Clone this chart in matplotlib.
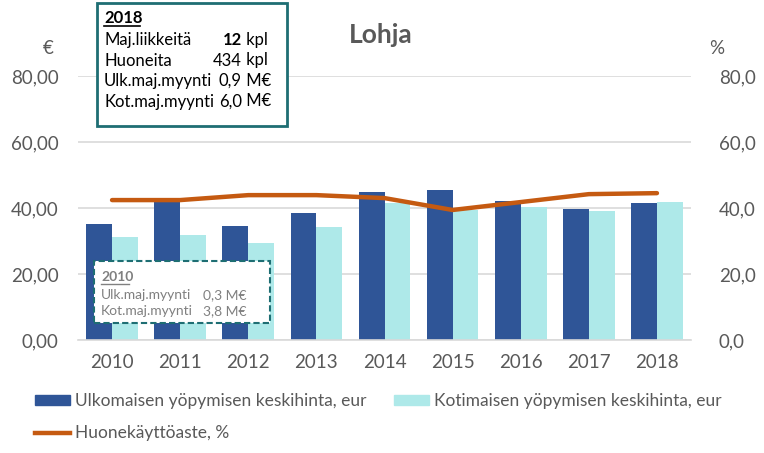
import matplotlib
matplotlib.use("Agg")
import matplotlib.pyplot as plt
import numpy as np
from matplotlib.patches import Patch
from matplotlib.lines import Line2D

plt.rcParams['font.family'] = ['Lato', 'DejaVu Sans']

years = ["2010", "2011", "2012", "2013", "2014", "2015", "2016", "2017", "2018"]
ulk = [35.2, 42.5, 34.5, 38.5, 44.9, 45.5, 42.0, 39.7, 41.5]
kot = [31.3, 31.8, 29.5, 34.2, 41.5, 39.5, 40.4, 39.1, 41.8]
kaytto = [42.4, 42.4, 43.9, 43.9, 43.0, 39.4, 41.8, 44.2, 44.5]
left_ticks = [0, 20, 40, 60, 80]
left_labels = ["0,00", "20,00", "40,00", "60,00", "80,00"]
right_labels = ["0,0", "20,0", "40,0", "60,0", "80,0"]
series_names = ["Ulkomaisen yöpymisen keskihinta, eur",
                "Kotimaisen yöpymisen keskihinta, eur",
                "Huonekäyttöaste, %"]
title = "Lohja"
box2018 = [("Maj.liikkeitä", "12", " kpl"), ("Huoneita", "434", " kpl"),
           ("Ulk.maj.myynti", "0,9", " M€"), ("Kot.maj.myynti", "6,0", " M€")]
box2010 = [("Ulk.maj.myynti", "0,3 M€"), ("Kot.maj.myynti", "3,8 M€")]

DARK = "#2F5597"
LIGHT = "#AEE9E9"
ORANGE = "#C55A11"
TEAL = "#1E6E73"
GRID = "#D9D9D9"
TXT = "#595959"
GRAYTXT = "#808080"

W, H = 764, 453
fig = plt.figure(figsize=(W/100, H/100), dpi=100)
L, R, B, T = 78, 691, 340, 76
ax = fig.add_axes([L/W, 1-B/H, (R-L)/W, (B-T)/H])
ax2 = ax.twinx()

x = np.arange(len(years))
bw = 0.38
ax.bar(x - bw/2, ulk, bw, color=DARK, zorder=2)
ax.bar(x + bw/2, kot, bw, color=LIGHT, zorder=2)
ax.set_xlim(-0.5, len(years)-0.5)
ax.set_ylim(0, 80)
ax.set_yticks(left_ticks)
ax.set_yticklabels(left_labels)
ax.set_xticks(x)
ax.set_xticklabels(years)
ax.grid(axis='y', color=GRID, linewidth=1.2, zorder=0)
ax.set_axisbelow(True)
for s in ['top', 'left', 'right']:
    ax.spines[s].set_visible(False)
ax.spines['bottom'].set_color(GRID)
ax.spines['bottom'].set_linewidth(1.2)
ax.tick_params(axis='both', length=0, labelsize=13.5, labelcolor=TXT)
ax.tick_params(axis='y', pad=14)
ax.tick_params(axis='x', pad=10)

ax2.plot(x, kaytto, color=ORANGE, linewidth=3.2, solid_capstyle='round', zorder=3)
ax2.set_ylim(0, 80)
ax2.set_yticks(left_ticks)
ax2.set_yticklabels(right_labels)
for s in ax2.spines.values():
    s.set_visible(False)
ax2.tick_params(axis='y', length=0, labelsize=13.5, labelcolor=TXT, pad=20)

fig.text(48/W, 1-48/H, "€", fontsize=13.5, color=TXT, ha='center', va='center')
fig.text(717/W, 1-48/H, "%", fontsize=13.5, color=TXT, ha='center', va='center')
fig.text(381/W, 1-35/H, title, fontsize=19, fontweight='bold', color=TXT, ha='center', va='center')

# 2018 box
rect = plt.Rectangle((97/W, 1-126/H), (287-97)/W, (126-3)/H, transform=fig.transFigure,
                     fill=True, facecolor='white', edgecolor=TEAL, linewidth=2, zorder=5)
fig.add_artist(rect)
fig.text(104/W, 1-18/H, "2018", fontsize=12, fontweight='bold', color='black', va='center', zorder=6)
fig.add_artist(Line2D([104/W, 140/W], [1-26/H, 1-26/H], transform=fig.transFigure, color='black', linewidth=1.2, zorder=6))
for i, (lab, num, unit) in enumerate(box2018):
    yy = 1 - (40 + i*20.5)/H
    fig.text(104/W, yy, lab, fontsize=12, color='black', va='center', zorder=6)
    fig.text(242/W, yy, num, fontsize=12, color='black', va='center', ha='right',
             fontweight='bold' if i == 0 else 'normal', zorder=6)
    fig.text(242/W, yy, unit, fontsize=12, color='black', va='center', ha='left', zorder=6)

# 2010 box
rect2 = plt.Rectangle((94/W, 1-323/H), (270-94)/W, (323-261)/H, transform=fig.transFigure,
                      fill=True, facecolor='white', edgecolor=TEAL, linewidth=1.5,
                      linestyle=(0, (3, 1.5)), zorder=5)
fig.add_artist(rect2)
fig.text(101/W, 1-277/H, "2010", fontsize=10, fontweight='bold', color=GRAYTXT, va='center', zorder=6)
fig.add_artist(Line2D([101/W, 129/W], [1-284/H, 1-284/H], transform=fig.transFigure, color=GRAYTXT, linewidth=1, zorder=6))
for i, (lab, val) in enumerate(box2010):
    yy = 1 - (295 + i*16)/H
    fig.text(101/W, yy, lab, fontsize=10, color=GRAYTXT, va='center', zorder=6)
    fig.text(203/W, yy, val, fontsize=10, color=GRAYTXT, va='center', zorder=6)

handles = [Patch(color=DARK), Line2D([0], [0], color=ORANGE, linewidth=3.2),
           Patch(color=LIGHT)]
labels = [series_names[0], series_names[2], series_names[1]]
leg = fig.legend(handles, labels, ncol=2, loc='upper left', bbox_to_anchor=(35/W, 1-393/H),
                 frameon=False, fontsize=12.5, handlelength=2.0, handleheight=0.55,
                 handletextpad=0.3, columnspacing=1.6, labelspacing=0.95, labelcolor=TXT,
                 borderaxespad=0, borderpad=0)

fig.savefig("out.png", dpi=100)
